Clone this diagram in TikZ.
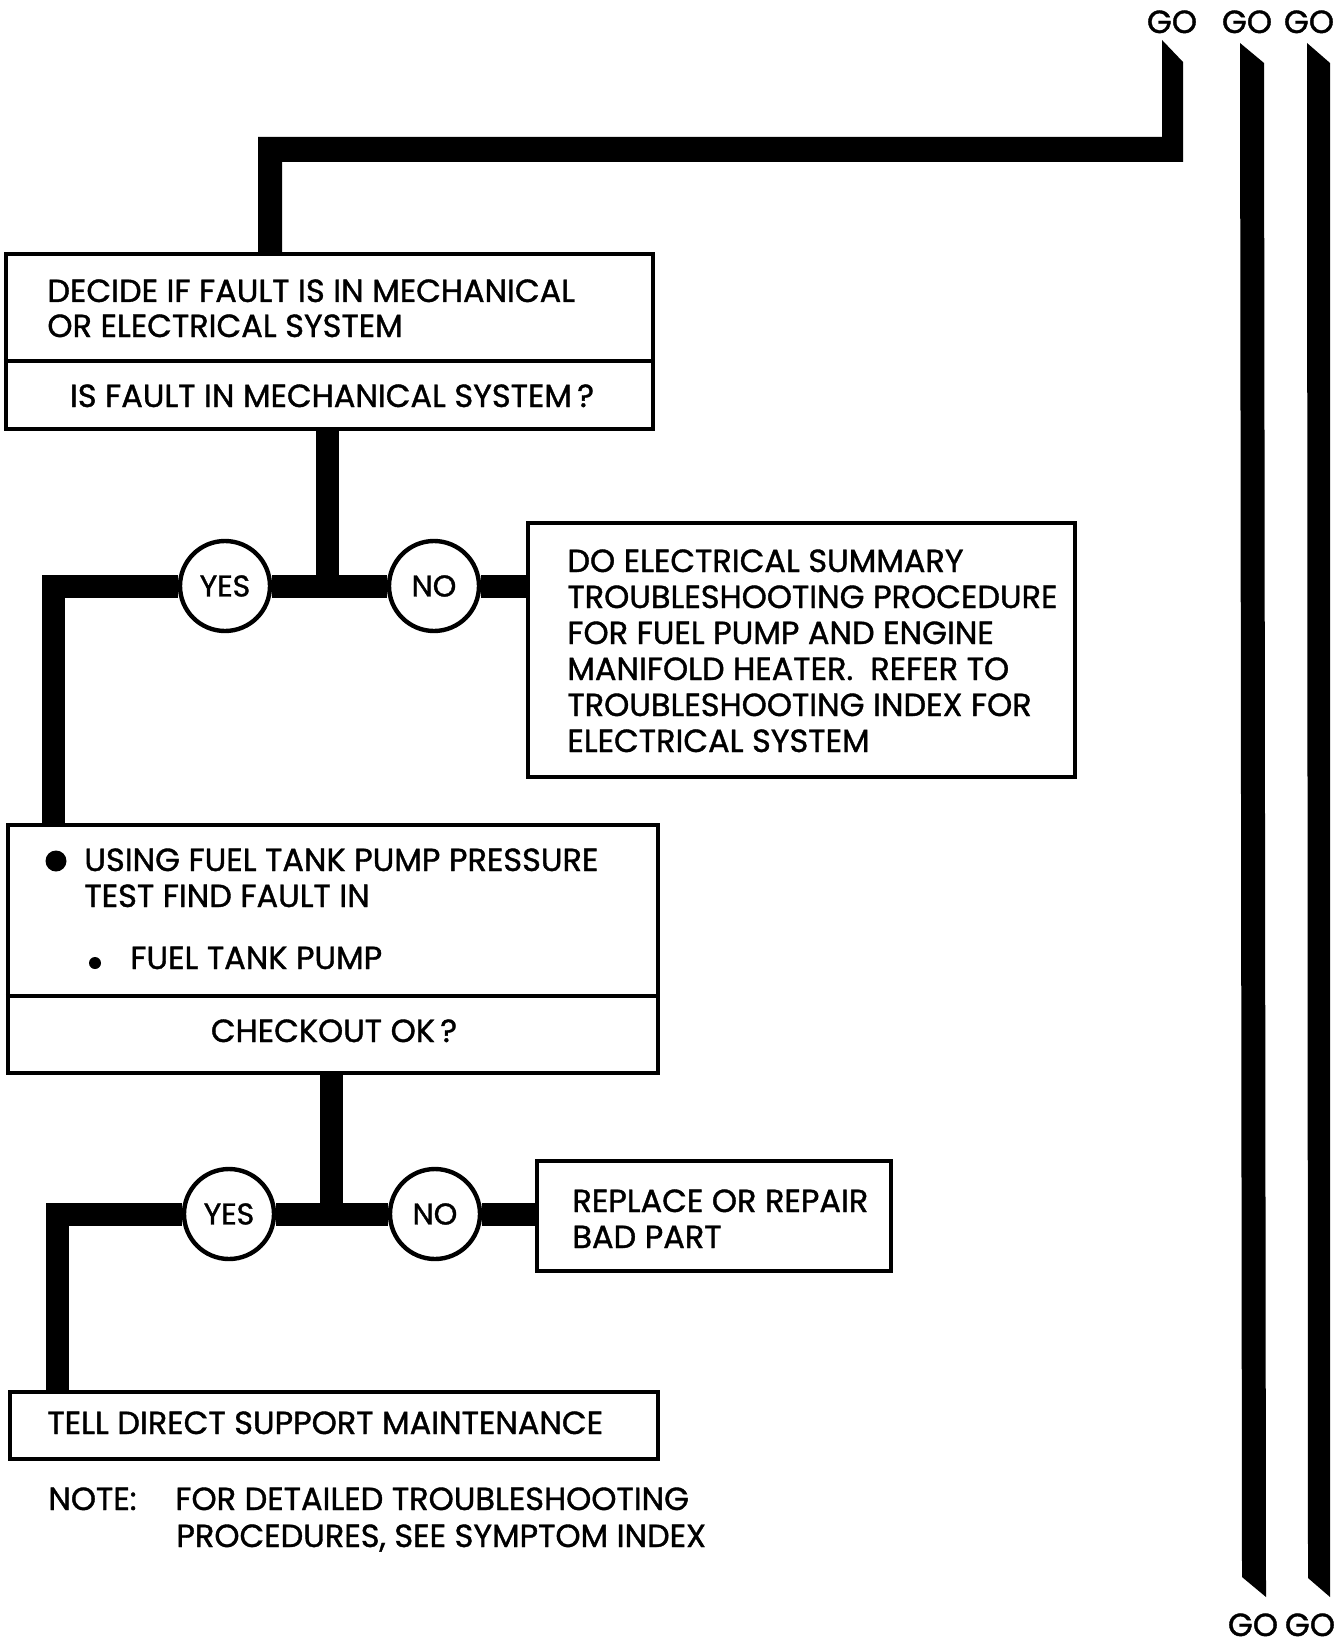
\documentclass[tikz,border=0pt]{standalone}
\usepackage{fontspec}
\setmainfont[FakeBold=1.2]{Poppins}
\usetikzlibrary{fit}

\tikzset{
  box/.style={draw, line width=2.2pt, inner sep=0pt},
  flow/.style={line width=11.5pt},
  txt/.style={anchor=base west, inner sep=0pt, font=\fontsize{16}{18}\selectfont},
  mid/.style={anchor=base, inner sep=0pt, font=\fontsize{16}{18}\selectfont},
  answer/.style={circle, draw, line width=2.2pt, fill=white, minimum size=45pt, inner sep=0pt, font=\fontsize{15}{17}\selectfont},
  dot/.style={circle, fill, inner sep=0pt},
}

\begin{document}
\begin{tikzpicture}[x=0.5pt, y=-0.5pt]
      \useasboundingbox (0,0) rectangle (1340,1647);
      \node[box, fit={(6,254) (653,429)}] (decide) {};
      \node[box, fit={(528,523) (1075,777)}] (elec) {};
      \node[box, fit={(8,825) (658,1073)}] (test) {};
      \node[box, fit={(537,1161) (891,1271)}] (repair) {};
      \node[box, fit={(10,1392) (658,1459)}] (tell) {};
      \draw[line width=2.2pt] (decide.west |- 0,361) -- (decide.east |- 0,361);
      \draw[line width=2.2pt] (test.west |- 0,996) -- (test.east |- 0,996);
      \node[txt] (decide1) at (47,302) {DECIDE IF FAULT IS IN MECHANICAL};
      \node[txt] (decide2) at (47,337) {OR ELECTRICAL SYSTEM};
      \node[mid] (decideq) at (332,407) {IS FAULT IN MECHANICAL SYSTEM\,?};
      \foreach \t [count=\i] in {DO ELECTRICAL SUMMARY, TROUBLESHOOTING PROCEDURE,
        FOR FUEL PUMP AND ENGINE, {MANIFOLD HEATER.\ \ REFER TO},
        TROUBLESHOOTING INDEX FOR, ELECTRICAL SYSTEM} {
        \node[txt] (elec\i) at (567,536+36*\i) {\t};
      }
      \node[dot, minimum size=10.5pt] (bigdot) at (56,861) {};
      \node[txt] (test1) at (84,871) {USING FUEL TANK PUMP PRESSURE};
      \node[txt] (test2) at (84,907) {TEST FIND FAULT IN};
      \node[dot, minimum size=6pt] (smalldot) at (95,963) {};
      \node[txt] (test3) at (130,969) {FUEL TANK PUMP};
      \node[mid] (testq) at (334,1042) {CHECKOUT OK\,?};
      \node[txt] (repair1) at (572,1212) {REPLACE OR REPAIR};
      \node[txt] (repair2) at (572,1248) {BAD PART};
      \node[txt] (tell1) at (47,1434) {TELL DIRECT SUPPORT MAINTENANCE};
      \node[txt] (note) at (48,1510) {NOTE:};
      \node[txt] (note1) at (175,1510) {FOR DETAILED TROUBLESHOOTING};
      \node[txt] (note2) at (176,1547) {PROCEDURES, SEE SYMPTOM INDEX};
      \coordinate (j1) at (327,586);
      \coordinate (k1) at (53,586);
      \coordinate (j2) at (331,1214);
      \coordinate (k2) at (57,1214);
      \node[answer] (yes1) at (225,586) {YES};
      \node[answer] (no1) at (434,586) {NO};
      \node[answer] (yes2) at (229,1214) {YES};
      \node[answer] (no2) at (435,1214) {NO};
      \draw[flow] (decide.south -| j1) -- (j1);
      \draw[flow] (yes1) -- (no1);
      \draw[flow] (no1) -- (elec.west |- no1);
      \draw[flow] (yes1) -- (k1) -- (test.north -| k1);
      \draw[flow] (test.south -| j2) -- (j2);
      \draw[flow] (yes2) -- (no2);
      \draw[flow] (no2) -- (repair.west |- no2);
      \draw[flow] (yes2) -- (k2) -- (tell.north -| k2);
      \node[mid] (goA) at (1172,33) {GO};
      \node[mid] (goB) at (1247,33) {GO};
      \node[mid] (goC) at (1309,33) {GO};
      \node[mid] (goD) at (1253,1636) {GO};
      \node[mid] (goE) at (1310,1636) {GO};
      \fill (decide.north -| 258,0) -- (258,137) -- (1162,137) -- (1162,40) -- (1183,62)
        -- (1183,162) -- (282,162) -- (decide.north -| 282,0) -- cycle;
      \fill (1240,43) -- (1264,63) -- (1266,1597) -- (1242,1577) -- cycle;
      \fill (1307,43) -- (1330,63) -- (1330,1597) -- (1308,1578) -- cycle;
\end{tikzpicture}
\end{document}
